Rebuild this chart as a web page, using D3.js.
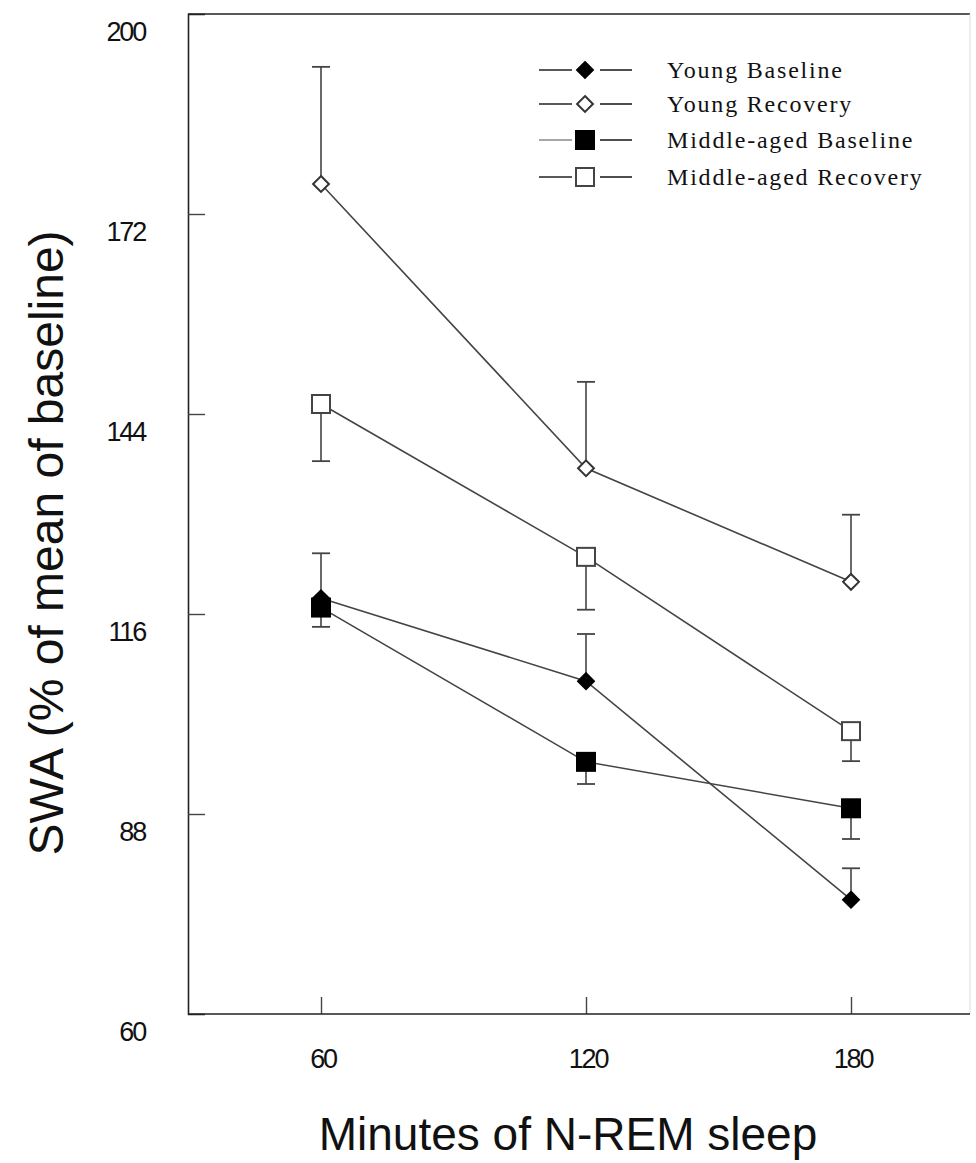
<!DOCTYPE html>
<html>
<head>
<meta charset="utf-8">
<script src="https://cdn.jsdelivr.net/npm/d3@7"></script>
<style>
  body { margin: 0; background: #fff; }
  svg { display: block; }
</style>
</head>
<body>
<div id="chart-area"></div>
<script>
// data
var minutes = [60, 120, 180];
var yTicks = [60, 88, 116, 144, 172, 200];

var youngBaseline = [118.2, 106.6, 76.0];
var youngBaselineErr = [6.3, 6.6, 4.4];
var youngRecovery = [176.2, 136.4, 120.5];
var youngRecoveryErr = [16.4, 12.1, 9.4];
var middleBaseline = [116.9, 95.3, 88.8];
var middleBaselineErr = [2.7, 3.1, 4.3];
var middleRecovery = [145.4, 124.0, 99.6];
var middleRecoveryErr = [8.0, 7.4, 4.2];

var seriesNames = ["Young Baseline", "Young Recovery", "Middle-aged Baseline", "Middle-aged Recovery"];

var series = [
  {name: seriesNames[0], values: youngBaseline, err: youngBaselineErr, dir: 1, shape: "diamond", filled: true},
  {name: seriesNames[1], values: youngRecovery, err: youngRecoveryErr, dir: 1, shape: "diamond", filled: false},
  {name: seriesNames[2], values: middleBaseline, err: middleBaselineErr, dir: -1, shape: "square", filled: true},
  {name: seriesNames[3], values: middleRecovery, err: middleRecoveryErr, dir: -1, shape: "square", filled: false}
];

var width = 976, height = 1163;
var frame = {left: 188, top: 14, bottom: 1014, right: 970};

var svg = d3.select("#chart-area")
  .append("svg")
  .attr("width", width)
  .attr("height", height);

var xScale = d3.scaleLinear().domain([60, 180]).range([321, 851]);
var yScale = d3.scaleLinear().domain([60, 200]).range([frame.bottom, frame.top]);

// frame
svg.append("line").attr("x1", frame.left).attr("x2", frame.right)
  .attr("y1", frame.top).attr("y2", frame.top)
  .attr("stroke", "#222").attr("stroke-width", 1.6);
svg.append("line").attr("x1", frame.right).attr("x2", frame.right)
  .attr("y1", frame.top).attr("y2", frame.bottom)
  .attr("stroke", "#ddd").attr("stroke-width", 1);

// y axis, ticks inside, labels pushed down
var yAxis = d3.axisRight(yScale).tickValues(yTicks).tickSize(17).tickFormat("");
var yg = svg.append("g")
  .attr("transform", "translate(" + frame.left + ",0)")
  .call(yAxis);
yg.select(".domain").attr("stroke", "#222").attr("stroke-width", 1.6);
yg.selectAll(".tick line").attr("stroke", "#444").attr("stroke-width", 1.4);
yg.selectAll(".tick").filter(function(d) { return d === 60 || d === 200; }).remove();

svg.selectAll(".ylabel")
  .data(yTicks)
  .enter()
  .append("text")
  .attr("class", "ylabel")
  .attr("x", 145)
  .attr("y", function(d) { return yScale(d) + 27; })
  .attr("text-anchor", "end")
  .attr("font-family", "Liberation Sans, Arial, sans-serif")
  .attr("font-size", 27)
  .attr("letter-spacing", -2.2)
  .attr("fill", "#111")
  .text(function(d) { return d; });

// x axis, ticks pointing up
var xAxis = d3.axisTop(xScale).tickValues(minutes).tickSize(17).tickFormat("");
var xg = svg.append("g")
  .attr("transform", "translate(0," + frame.bottom + ")")
  .call(xAxis);
xg.select(".domain").remove();
xg.selectAll(".tick line").attr("stroke", "#444").attr("stroke-width", 1.4);
svg.append("line").attr("x1", frame.left).attr("x2", frame.right)
  .attr("y1", frame.bottom).attr("y2", frame.bottom)
  .attr("stroke", "#222").attr("stroke-width", 1.6);

svg.selectAll(".xlabel")
  .data(minutes)
  .enter()
  .append("text")
  .attr("class", "xlabel")
  .attr("x", function(d) { return xScale(d) + 2; })
  .attr("y", 1068)
  .attr("text-anchor", "middle")
  .attr("font-family", "Liberation Sans, Arial, sans-serif")
  .attr("font-size", 27)
  .attr("letter-spacing", -2.2)
  .attr("fill", "#111")
  .text(function(d) { return d; });

// axis titles
svg.append("text")
  .attr("x", 568)
  .attr("y", 1150)
  .attr("text-anchor", "middle")
  .attr("font-family", "Liberation Sans, Arial, sans-serif")
  .attr("font-size", 46)
  .attr("fill", "#111")
  .text("Minutes of N-REM sleep");

svg.append("text")
  .attr("transform", "translate(63,543) rotate(-90)")
  .attr("text-anchor", "middle")
  .attr("font-family", "Liberation Sans, Arial, sans-serif")
  .attr("font-size", 48)
  .attr("fill", "#111")
  .text("SWA (% of mean of baseline)");

// markers
function drawMarker(g, shape, filled, cx, cy) {
  if (shape === "diamond") {
    g.append("path")
      .attr("d", d3.symbol().type(d3.symbolDiamond2).size(160)())
      .attr("transform", "translate(" + cx + "," + cy + ")")
      .attr("fill", filled ? "#000" : "#fff")
      .attr("stroke", filled ? "#000" : "#333")
      .attr("stroke-width", 2);
  } else {
    g.append("rect")
      .attr("x", cx - 9).attr("y", cy - 9)
      .attr("width", 18).attr("height", 18)
      .attr("fill", filled ? "#000" : "#fff")
      .attr("stroke", filled ? "#000" : "#444")
      .attr("stroke-width", 2);
  }
}

var line = d3.line()
  .x(function(d, i) { return xScale(minutes[i]); })
  .y(function(d) { return yScale(d); });

// error bars
series.forEach(function(s) {
  var eg = svg.append("g");
  s.values.forEach(function(v, i) {
    var cx = xScale(minutes[i]);
    var end = yScale(v + s.dir * s.err[i]);
    eg.append("line").attr("x1", cx).attr("x2", cx)
      .attr("y1", yScale(v)).attr("y2", end)
      .attr("stroke", "#444").attr("stroke-width", 1.6);
    eg.append("line").attr("x1", cx - 9).attr("x2", cx + 9)
      .attr("y1", end).attr("y2", end)
      .attr("stroke", "#444").attr("stroke-width", 1.8);
  });
});

// lines
series.forEach(function(s) {
  svg.append("path")
    .datum(s.values)
    .attr("d", line)
    .attr("fill", "none")
    .attr("stroke", "#444")
    .attr("stroke-width", 1.6);
});

// points
var pts = svg.append("g");
series.slice().reverse().forEach(function(s) {
  s.values.forEach(function(v, i) {
    drawMarker(pts, s.shape, s.filled, xScale(minutes[i]), yScale(v));
  });
});

// legend
var legendY = [70, 104, 140, 177];
var legend = svg.append("g");
series.forEach(function(s, i) {
  var y = legendY[i];
  legend.append("line").attr("x1", 539).attr("x2", 572).attr("y1", y).attr("y2", y)
    .attr("stroke", i === 2 ? "#888" : "#222").attr("stroke-width", 1.6);
  legend.append("line").attr("x1", 600).attr("x2", 632).attr("y1", y).attr("y2", y)
    .attr("stroke", "#222").attr("stroke-width", 1.6);
  drawMarker(legend, s.shape, s.filled, 585, y);
  legend.append("text")
    .attr("x", 667)
    .attr("y", y + 8)
    .attr("font-family", "Liberation Serif, Times New Roman, serif")
    .attr("font-size", 24)
    .attr("letter-spacing", 1.8)
    .attr("fill", "#111")
    .text(s.name);
});
</script>
</body>
</html>
